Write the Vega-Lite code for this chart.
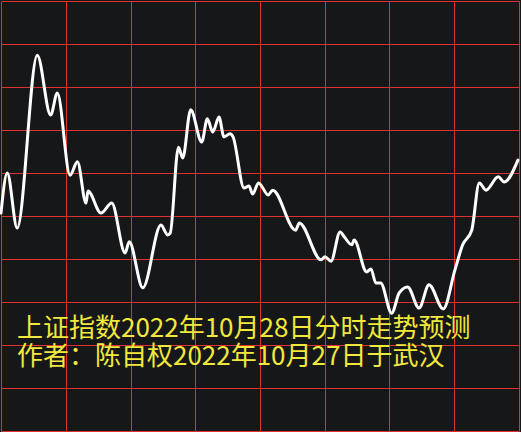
{
  "$schema": "https://vega.github.io/schema/vega-lite/v6.json",
  "width": 518,
  "height": 430,
  "autosize": {"type": "none"},
  "padding": {"left": 1, "top": 1, "right": 2, "bottom": 1},
  "background": "#161719",
  "config": {
    "view": {"stroke": null, "fill": "#161719"},
    "axis": {"grid": true, "gridColor": "#e03030", "gridOpacity": 1, "gridWidth": 1, "domain": false, "ticks": false, "labels": false, "title": null}
  },
  "datasets": {
    "line": [
      {"t": 0, "v": 5.07}, {"t": 2.9, "v": 6.0}, {"t": 7.5, "v": 4.72}, {"t": 16.8, "v": 8.74},
      {"t": 23.0, "v": 7.35}, {"t": 26.1, "v": 7.86}, {"t": 32.0, "v": 5.95}, {"t": 35.4, "v": 6.26},
      {"t": 39.4, "v": 5.3}, {"t": 40.3, "v": 5.58}, {"t": 46.3, "v": 5.07}, {"t": 51.3, "v": 5.3},
      {"t": 57.5, "v": 4.14}, {"t": 59.4, "v": 4.4}, {"t": 65.7, "v": 3.33}, {"t": 74.1, "v": 4.79},
      {"t": 77.2, "v": 4.56}, {"t": 78.4, "v": 4.6}, {"t": 82.2, "v": 6.6}, {"t": 84.2, "v": 6.35},
      {"t": 87.9, "v": 7.47}, {"t": 93.0, "v": 6.72}, {"t": 95.6, "v": 7.26}, {"t": 98.1, "v": 6.95},
      {"t": 101.0, "v": 7.3}, {"t": 103.3, "v": 6.84}, {"t": 106.1, "v": 6.91}, {"t": 107.5, "v": 6.84},
      {"t": 112.6, "v": 5.65}, {"t": 114.9, "v": 5.7}, {"t": 116.6, "v": 5.51}, {"t": 119.3, "v": 5.77},
      {"t": 123.8, "v": 5.49}, {"t": 125.9, "v": 5.6}, {"t": 136.5, "v": 4.67}, {"t": 138.2, "v": 4.84},
      {"t": 148.3, "v": 3.98}, {"t": 150.1, "v": 4.05}, {"t": 152.9, "v": 3.95}, {"t": 157.1, "v": 4.63},
      {"t": 159.1, "v": 4.51}, {"t": 162.5, "v": 4.33}, {"t": 163.6, "v": 4.44}, {"t": 169.4, "v": 3.7},
      {"t": 171.4, "v": 3.77}, {"t": 173.7, "v": 3.44}, {"t": 175.9, "v": 3.44}, {"t": 181.0, "v": 2.74},
      {"t": 184.5, "v": 3.21}, {"t": 188.4, "v": 3.35}, {"t": 193.7, "v": 2.86}, {"t": 198.3, "v": 3.4},
      {"t": 204.9, "v": 2.84}, {"t": 210.3, "v": 3.74}, {"t": 213.9, "v": 4.33}, {"t": 218.1, "v": 4.67},
      {"t": 221.6, "v": 5.77}, {"t": 224.7, "v": 5.6}, {"t": 230.4, "v": 5.91}, {"t": 233.1, "v": 5.79},
      {"t": 239.5, "v": 6.3}
    ],
    "notes": [
      {"t": 7.4, "v": 2.37, "label": "上证指数2022年10月28日分时走势预测"},
      {"t": 7.4, "v": 1.72, "label": "作者：陈自权2022年10月27日于武汉"}
    ]
  },
  "encoding": {
    "x": {
      "field": "t", "type": "quantitative",
      "scale": {"domain": [0, 240], "nice": false, "zero": false},
      "axis": {"values": [0, 30.116, 60.232, 89.884, 120, 150.116, 179.768, 209.884, 240]}
    },
    "y": {
      "field": "v", "type": "quantitative",
      "scale": {"domain": [0, 10], "nice": false, "zero": false},
      "axis": {"values": [0, 1, 2, 3, 4, 5, 6, 7, 8, 9, 10]}
    }
  },
  "layer": [
    {
      "data": {"name": "line"},
      "mark": {"type": "line", "color": "#ffffff", "strokeWidth": 3, "interpolate": "monotone", "strokeJoin": "round", "strokeCap": "round"}
    },
    {
      "data": {"name": "notes"},
      "mark": {"type": "text", "align": "left", "baseline": "middle", "font": "Noto Sans CJK SC", "fontSize": 26, "color": "#f2e83c"},
      "encoding": {
        "text": {"field": "label"}
      }
    }
  ]
}
